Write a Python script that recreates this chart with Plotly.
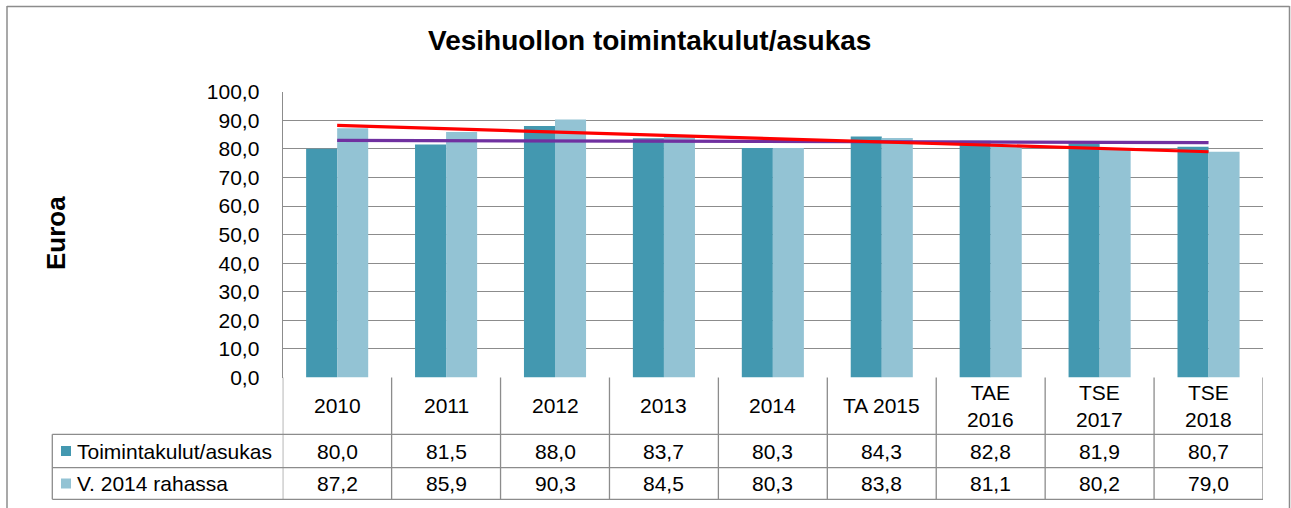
import numpy as np
import plotly.graph_objects as go

# ---- data ----
categories = ["2010", "2011", "2012", "2013", "2014", "TA 2015", "TAE<br>2016", "TSE<br>2017", "TSE<br>2018"]
series_names = ["Toimintakulut/asukas", "V. 2014 rahassa"]
toimintakulut = [80.0, 81.5, 88.0, 83.7, 80.3, 84.3, 82.8, 81.9, 80.7]
rahassa_2014 = [87.2, 85.9, 90.3, 84.5, 80.3, 83.8, 81.1, 80.2, 79.0]
y_ticks = [0, 10, 20, 30, 40, 50, 60, 70, 80, 90, 100]

title_text = "Vesihuollon toimintakulut/asukas"
y_title = "Euroa"

# ---- styling ----
W, H = 1291, 508
C_DARK = "#4398b0"
C_LIGHT = "#93c3d4"
C_RED = "#ff0000"
C_PURPLE = "#7030a0"
GRID = "#8c8c8c"
FONT = "Liberation Sans, Arial, sans-serif"

def X(px):
    return px / W

def Y(py):
    return 1 - py / H

plot_l, plot_r = 282.7, 1263.0
plot_t, plot_b = 91.7, 377.5
row1_t, row2_t, tab_b = 434.3, 467.7, 499.3
tab_l = 52.3

xs = list(range(len(categories)))

fig = go.Figure()
fig.add_trace(go.Bar(x=xs, y=toimintakulut, name=series_names[0], marker=dict(color=C_DARK, line=dict(width=0))))
fig.add_trace(go.Bar(x=xs, y=rahassa_2014, name=series_names[1], marker=dict(color=C_LIGHT, line=dict(width=0))))

# linear trend lines (as Excel trendlines)
xa = np.array(xs, dtype=float)
for vals, col in [(toimintakulut, C_PURPLE), (rahassa_2014, C_RED)]:
    k, b = np.polyfit(xa, np.array(vals), 1)
    fig.add_trace(go.Scatter(x=[xa[0], xa[-1]], y=[k * xa[0] + b, k * xa[-1] + b], mode="lines",
                             line=dict(color=col, width=3.2), hoverinfo="skip"))

shapes = []
line_style = dict(color=GRID, width=1.3)
# outer frame
shapes.append(dict(type="line", xref="paper", yref="paper", x0=X(7), x1=X(7), y0=Y(6), y1=0, line=dict(color="#8c8c8c", width=1.5)))
shapes.append(dict(type="line", xref="paper", yref="paper", x0=X(7), x1=X(1289.5), y0=Y(6.5), y1=Y(6.5), line=dict(color="#8c8c8c", width=1.5)))
shapes.append(dict(type="line", xref="paper", yref="paper", x0=X(1289.5), x1=X(1289.5), y0=Y(6), y1=0, line=dict(color="#8c8c8c", width=1.5)))
# data table: vertical separators at category boundaries
for i in range(len(categories) + 1):
    shapes.append(dict(type="line", xref="x", yref="paper", x0=i - 0.5, x1=i - 0.5,
                       y0=Y(plot_b), y1=Y(tab_b), line=line_style))
shapes.append(dict(type="line", xref="paper", yref="paper", x0=X(tab_l), x1=X(tab_l),
                   y0=Y(row1_t), y1=Y(tab_b), line=line_style))
for py in [row1_t, row2_t, tab_b]:
    shapes.append(dict(type="line", xref="paper", yref="paper", x0=X(tab_l), x1=X(plot_r),
                       y0=Y(py), y1=Y(py), line=line_style))
# legend keys
for (t, b), col in [((row1_t, row2_t), C_DARK), ((row2_t, tab_b), C_LIGHT)]:
    cy = (t + b) / 2
    shapes.append(dict(type="rect", xref="paper", yref="paper", x0=X(61), x1=X(71),
                       y0=Y(cy - 5), y1=Y(cy + 5), fillcolor=col, line=dict(width=0)))

annotations = []
tfont = dict(family=FONT, size=21, color="#000000")
annotations.append(dict(text="<b>" + title_text + "</b>", xref="paper", yref="paper", x=X(649.5), y=Y(40.5),
                        xanchor="center", yanchor="middle", showarrow=False,
                        font=dict(family=FONT, size=28, color="#000000")))
annotations.append(dict(text="<b>" + y_title + "</b>", xref="paper", yref="paper", x=X(56), y=Y(233),
                        xanchor="center", yanchor="middle", textangle=-90, showarrow=False,
                        font=dict(family=FONT, size=26, color="#000000")))
for i, cat in enumerate(categories):
    annotations.append(dict(text=cat, xref="x", yref="paper", x=i, y=Y((plot_b + row1_t) / 2),
                            xanchor="center", yanchor="middle", showarrow=False, font=tfont))
for (t, b), name, vals in [((row1_t, row2_t), series_names[0], toimintakulut),
                           ((row2_t, tab_b), series_names[1], rahassa_2014)]:
    cy = (t + b) / 2
    annotations.append(dict(text=name, xref="paper", yref="paper", x=X(75), y=Y(cy),
                            xanchor="left", yanchor="middle", showarrow=False, font=tfont))
    for i, v in enumerate(vals):
        annotations.append(dict(text=f"{v:.1f}".replace(".", ","), xref="x", yref="paper", x=i, y=Y(cy),
                                xanchor="center", yanchor="middle", showarrow=False, font=tfont))

fig.update_layout(
    width=W, height=H,
    margin=dict(l=0, r=0, t=0, b=0, pad=0, autoexpand=False),
    paper_bgcolor="white", plot_bgcolor="white",
    showlegend=False,
    barmode="group", bargap=0.43, bargroupgap=0,
    separators=", ",
    font=dict(family=FONT, size=21, color="#000000"),
    xaxis=dict(domain=[X(plot_l), X(plot_r)], range=[-0.5, len(categories) - 0.5], automargin=False,
               showticklabels=False, showgrid=False, zeroline=False, showline=False, fixedrange=True),
    yaxis=dict(domain=[Y(plot_b), Y(plot_t)], range=[0, 100], tickvals=y_ticks, tickformat=".1f",
               automargin=False,
               showgrid=True, gridcolor=GRID, gridwidth=1.3, zeroline=False,
               showline=True, linecolor=GRID, linewidth=1.3, ticks="", ticklabelstandoff=18,
               tickfont=dict(family=FONT, size=21, color="#000000")),
    shapes=shapes,
    annotations=annotations,
)

post = ("document.documentElement.style.margin='0';document.body.style.margin='0';"
        "document.body.style.padding='0';document.documentElement.style.overflow='hidden';"
        "document.body.style.overflow='hidden';")
fig.write_html("out.html", post_script=post, config={"displayModeBar": False})
